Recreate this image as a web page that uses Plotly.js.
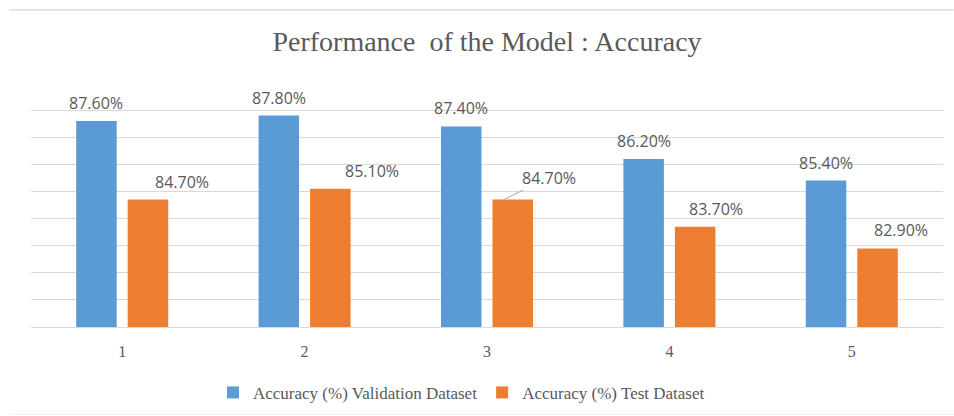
<!DOCTYPE html>
<html>
<head>
<meta charset="utf-8">
<script src="https://cdn.plot.ly/plotly-3.0.1.min.js"></script>
<style>
  html, body { margin: 0; padding: 0; background: #ffffff; }
  #chart { width: 954px; height: 416px; }
</style>
</head>
<body>
<div id="chart"></div>
<script>
// ---- data ----
const categories = ['1', '2', '3', '4', '5'];
const validationAcc = [87.6, 87.8, 87.4, 86.2, 85.4];
const testAcc = [84.7, 85.1, 84.7, 83.7, 82.9];
const seriesNames = ['Accuracy (%) Validation Dataset', 'Accuracy (%) Test Dataset'];
const chartTitle = 'Performance  of the Model : Accuracy';

// ---- styling / layout constants ----
const BLUE = '#5B9BD5';
const ORANGE = '#ED7D31';
const TEXT = '#595959';
const GRID = '#D9D9D9';
const BARGAP = 0.435;
const BARGROUPGAP = 0.214;
const barOffset = (1 - BARGAP) / 4;           // centre of each bar relative to category, in category units
const testLabelNudge = [34, 42, 0, 21, 23];   // pixel nudges of test-dataset labels (Excel manual placement)
const leaderIndex = 2;                          // label drawn with a leader line

const fmt = v => v.toFixed(2) + '%';

const traces = [
  { type: 'bar', name: seriesNames[0], x: categories, y: validationAcc,
    marker: { color: BLUE }, hoverinfo: 'none' },
  { type: 'bar', name: seriesNames[1], x: categories, y: testAcc,
    marker: { color: ORANGE }, hoverinfo: 'none' }
];

const labelFont = { family: 'Open Sans, sans-serif', size: 16, color: TEXT };
const annotations = [];
categories.forEach((c, i) => {
  annotations.push({
    x: i - barOffset, y: validationAcc[i], xref: 'x', yref: 'y',
    text: fmt(validationAcc[i]), showarrow: false, yshift: 18,
    xanchor: 'center', yanchor: 'middle', font: labelFont
  });
  if (i === leaderIndex) {
    annotations.push({
      x: i + barOffset, y: testAcc[i], xref: 'x', yref: 'y',
      text: fmt(testAcc[i]), showarrow: true, arrowhead: 0, arrowwidth: 1,
      arrowcolor: '#A6A6A6', xshift: -9, ax: 45, ay: -22, standoff: 0,
      font: labelFont
    });
  } else {
    annotations.push({
      x: i + barOffset, y: testAcc[i], xref: 'x', yref: 'y',
      text: fmt(testAcc[i]), showarrow: false, yshift: 18, xshift: testLabelNudge[i],
      xanchor: 'center', yanchor: 'middle', font: labelFont
    });
  }
});

const layout = {
  width: 954, height: 416,
  margin: { l: 31, r: 11, t: 83, b: 89, pad: 0, autoexpand: false },
  paper_bgcolor: '#ffffff', plot_bgcolor: '#ffffff',
  barmode: 'group', bargap: BARGAP, bargroupgap: BARGROUPGAP,
  title: {
    text: chartTitle,
    font: { family: 'Liberation Serif, Times New Roman, serif', size: 28, color: TEXT },
    x: 0.5, xref: 'paper', xanchor: 'center',
    y: 1 - 41 / 416, yref: 'container', yanchor: 'middle'
  },
  xaxis: {
    type: 'category', showgrid: false, zeroline: false, automargin: false,
    showline: true, linecolor: GRID, linewidth: 1,
    ticks: '', ticklabelstandoff: 10,
    tickfont: { family: 'Liberation Serif, Times New Roman, serif', size: 16, color: TEXT }
  },
  yaxis: {
    range: [80, 89], dtick: 1, tick0: 80, showticklabels: false, automargin: false,
    showgrid: true, gridcolor: GRID, gridwidth: 1, zeroline: false, ticks: ''
  },
  showlegend: true,
  legend: {
    orientation: 'h', x: 0.472, xanchor: 'center', y: -0.27, yanchor: 'middle',
    font: { family: 'Liberation Serif, Times New Roman, serif', size: 17, color: TEXT },
    itemclick: false, itemdoubleclick: false
  },
  annotations: annotations,
  shapes: [
    { type: 'line', xref: 'paper', yref: 'paper', x0: -0.024, x1: 1.012,
      y0: (327 - 10) / 244, y1: (327 - 10) / 244, line: { color: '#DDDDDD', width: 1.5 } },
    { type: 'line', xref: 'paper', yref: 'paper', x0: -0.024, x1: 1.012,
      y0: (327 - 414.5) / 244, y1: (327 - 414.5) / 244, line: { color: '#F2F2F2', width: 1 } }
  ]
};

Plotly.newPlot('chart', traces, layout, { staticPlot: true, displayModeBar: false });
</script>
</body>
</html>
